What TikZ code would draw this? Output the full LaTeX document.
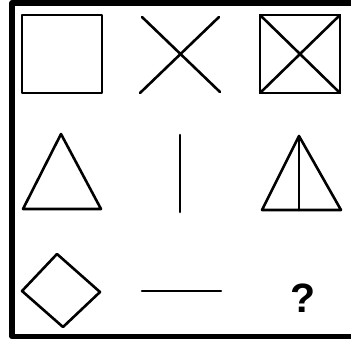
\documentclass[tikz,border=0pt]{standalone}
\usepackage{fontspec}
\setmainfont{Liberation Sans}
\usepackage{tikz}

\begin{document}
\begin{tikzpicture}[x=1pt,y=-1pt,line cap=round,line join=round,
		figline/.style={black,line width=2.6pt}]
		\useasboundingbox (0,0) rectangle (351,343);
		\fill[white] (0,0) rectangle (351,343);
		% outer frame (right side runs past the edge)
		\draw[black,line width=5.5pt,line cap=butt] (362,2.8) -- (12,2.8) -- (12,336.5) -- (362,336.5);
		% row 1
		\draw[figline] (22,15) rectangle (102,93);
		\draw[figline] (142,17) -- (220,92);
		\draw[figline] (219,17) -- (140,93);
		\draw[figline] (260,15) rectangle (340,93);
		\draw[figline] (260,15) -- (340,93);
		\draw[figline] (340,15) -- (260,93);
		% row 2
		\draw[figline] (61,134) -- (101,209) -- (23,209) -- cycle;
		\draw[figline] (180,135) -- (180,212);
		\draw[figline] (299,136) -- (341,210) -- (262,210) -- cycle;
		\draw[figline] (299,136) -- (299,210);
		% row 3
		\draw[figline] (57,254) -- (100,292) -- (63,327) -- (22,291) -- cycle;
		\draw[figline] (142,291) -- (221,291);
		\node[font=\bfseries\fontsize{41}{41}\selectfont,inner sep=0pt] (quest) at (303,298) {?};
\end{tikzpicture}
\end{document}
